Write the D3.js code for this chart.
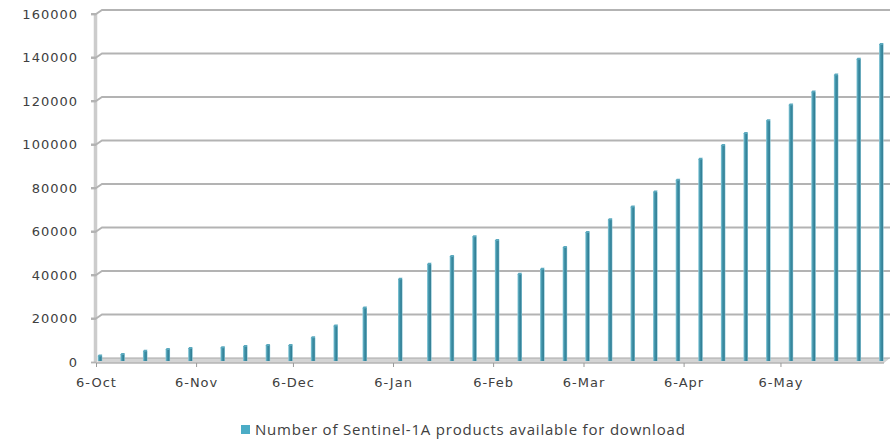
<!DOCTYPE html>
<html>
<head>
<meta charset="utf-8">
<script src="https://cdn.jsdelivr.net/npm/d3@7"></script>
<style>
  html, body { margin: 0; padding: 0; background: #fff; }
  svg { display: block; }
</style>
</head>
<body>
<svg id="chart" width="894" height="440"></svg>
<script>
// ---- data ----
const dates = [
  "2014-10-06","2014-10-13","2014-10-20","2014-10-27","2014-11-03","2014-11-13",
  "2014-11-20","2014-11-27","2014-12-04","2014-12-11","2014-12-18","2014-12-27",
  "2015-01-07","2015-01-16","2015-01-23","2015-01-30","2015-02-06","2015-02-13",
  "2015-02-20","2015-02-27","2015-03-06","2015-03-13","2015-03-20","2015-03-27",
  "2015-04-03","2015-04-10","2015-04-17","2015-04-24","2015-05-01","2015-05-08",
  "2015-05-15","2015-05-22","2015-05-29","2015-06-05"
];
const products = [
  1200, 1800, 3300, 4100, 4600, 5000,
  5500, 6000, 6000, 9500, 15000, 23200,
  36400, 43300, 46900, 56000, 54200, 38700,
  41000, 51000, 57900, 63800, 69700, 76500,
  82000, 91600, 97900, 103400, 109300, 116600,
  122500, 130300, 137600, 144400
];
const yTicks = [0, 20000, 40000, 60000, 80000, 100000, 120000, 140000, 160000];
const xTickDates = ["2014-10-06","2014-11-06","2014-12-06","2015-01-06","2015-02-06","2015-03-06","2015-04-06","2015-05-06"];
const xDomain = ["2014-10-06", "2015-06-08"];
const seriesName = "Number of Sentinel-1A products available for download";

(function () {
// ---- layout ----
const svg = d3.select("#chart");
const parse = d3.utcParse("%Y-%m-%d");
const fmt = d3.utcFormat("%-d-%b");
const pLeft = 96, pRight = 887, pTop = 14, pBottom = 362;
const dx = 6, dy = 4; // 3D depth offset

const x = d3.scaleUtc().domain(xDomain.map(parse)).range([pLeft, pRight]);
const y = d3.scaleLinear().domain([0, 160000]).range([pBottom, pTop]);

const textColor = "#404040";
const gridColor = "#b3b3b3";

// left wall
svg.append("line")
  .attr("x1", pLeft - 0.5).attr("x2", pLeft - 0.5)
  .attr("y1", y(160000) - 1).attr("y2", pBottom + 1)
  .attr("stroke", "#cccccc").attr("stroke-width", 3.5);

// gridlines on back wall with connector from tick
const grid = svg.append("g");
yTicks.forEach(v => {
  if (v === 0) return;
  grid.append("path")
    .attr("d", `M${pLeft - 5},${y(v)} L${pLeft},${y(v)} L${pLeft + dx},${y(v) - dy} L${pRight + dx - 3},${y(v) - dy}`)
    .attr("fill", "none")
    .attr("stroke", gridColor)
    .attr("stroke-width", 1.8);
});

// floor
svg.append("path")
  .attr("d", `M${pLeft},${pBottom + 1} L${pRight - 3},${pBottom + 1} L${pRight + dx - 3},${pBottom - dy} L${pLeft + dx},${pBottom - dy} Z`)
  .attr("fill", "#d4d4d4");
svg.append("line")
  .attr("x1", pLeft + dx).attr("x2", pRight + dx - 3)
  .attr("y1", pBottom - dy).attr("y2", pBottom - dy)
  .attr("stroke", "#a8a8a8").attr("stroke-width", 1.2);
svg.append("line")
  .attr("x1", pLeft).attr("x2", pRight - 3)
  .attr("y1", pBottom + 1).attr("y2", pBottom + 1)
  .attr("stroke", "#b5b5b5").attr("stroke-width", 1.4);

// y axis labels + ticks
const yAxis = d3.axisLeft(y).tickValues(yTicks).tickSize(5).tickPadding(13).tickFormat(d3.format("d"));
const gy = svg.append("g").attr("transform", `translate(${pLeft},0)`).call(yAxis);
gy.select(".domain").remove();
gy.selectAll(".tick line").attr("stroke", gridColor).attr("stroke-width", 1.8);
gy.selectAll(".tick text")
  .attr("fill", textColor)
  .style("font-family", "'DejaVu Sans', Verdana, sans-serif")
  .style("font-size", "13px")
  .style("letter-spacing", "1px");

// x axis
const xAxis = d3.axisBottom(x).tickValues(xTickDates.map(parse)).tickSize(4).tickPadding(11).tickFormat(fmt);
const gx = svg.append("g").attr("transform", `translate(0,${pBottom + 1})`).call(xAxis);
gx.select(".domain").remove();
gx.selectAll(".tick line").attr("stroke", "#999").attr("stroke-width", 1);
gx.selectAll(".tick text")
  .attr("fill", textColor)
  .style("font-family", "'DejaVu Sans', Verdana, sans-serif")
  .style("font-size", "13px")
  .style("letter-spacing", "1px");

// bar gradient (cylindrical look)
const defs = svg.append("defs");
const grad = defs.append("linearGradient").attr("id", "barGrad")
  .attr("x1", "0%").attr("x2", "100%").attr("y1", "0%").attr("y2", "0%");
grad.append("stop").attr("offset", "0%").attr("stop-color", "#8fcddd");
grad.append("stop").attr("offset", "35%").attr("stop-color", "#4296ac");
grad.append("stop").attr("offset", "75%").attr("stop-color", "#337f95");
grad.append("stop").attr("offset", "100%").attr("stop-color", "#85c4d5");

// bars
const data = dates.map((d, i) => ({ date: parse(d), value: products[i] }));
const barW = 4.5, barShift = 4;
const bars = svg.append("g");
bars.selectAll("rect.bar").data(data).join("rect")
  .attr("class", "bar")
  .attr("x", d => x(d.date) + barShift - barW / 2)
  .attr("y", d => y(d.value) - dy)
  .attr("width", barW)
  .attr("height", d => (pBottom - 1) - (y(d.value) - dy))
  .attr("fill", "url(#barGrad)");
bars.selectAll("path.cap").data(data).join("path")
  .attr("class", "cap")
  .attr("d", d => {
    const cx = x(d.date) + barShift, ty = y(d.value) - dy;
    return `M${cx - barW / 2},${ty + 1} L${cx - barW / 2 + 1},${ty - 1} L${cx + barW / 2},${ty - 1} L${cx + barW / 2 - 1},${ty + 1} Z`;
  })
  .attr("fill", "#5aa9be");

// legend
const legend = svg.append("g").attr("transform", "translate(241,425)");
legend.append("rect").attr("width", 9).attr("height", 9).attr("fill", "#4bacc6");
legend.append("text")
  .attr("x", 14).attr("y", 10)
  .attr("fill", textColor)
  .style("font-family", "'Open Sans', sans-serif")
  .style("font-size", "15px")
  .style("letter-spacing", "0.8px")
  .text(seriesName);
})();
</script>
</body>
</html>
